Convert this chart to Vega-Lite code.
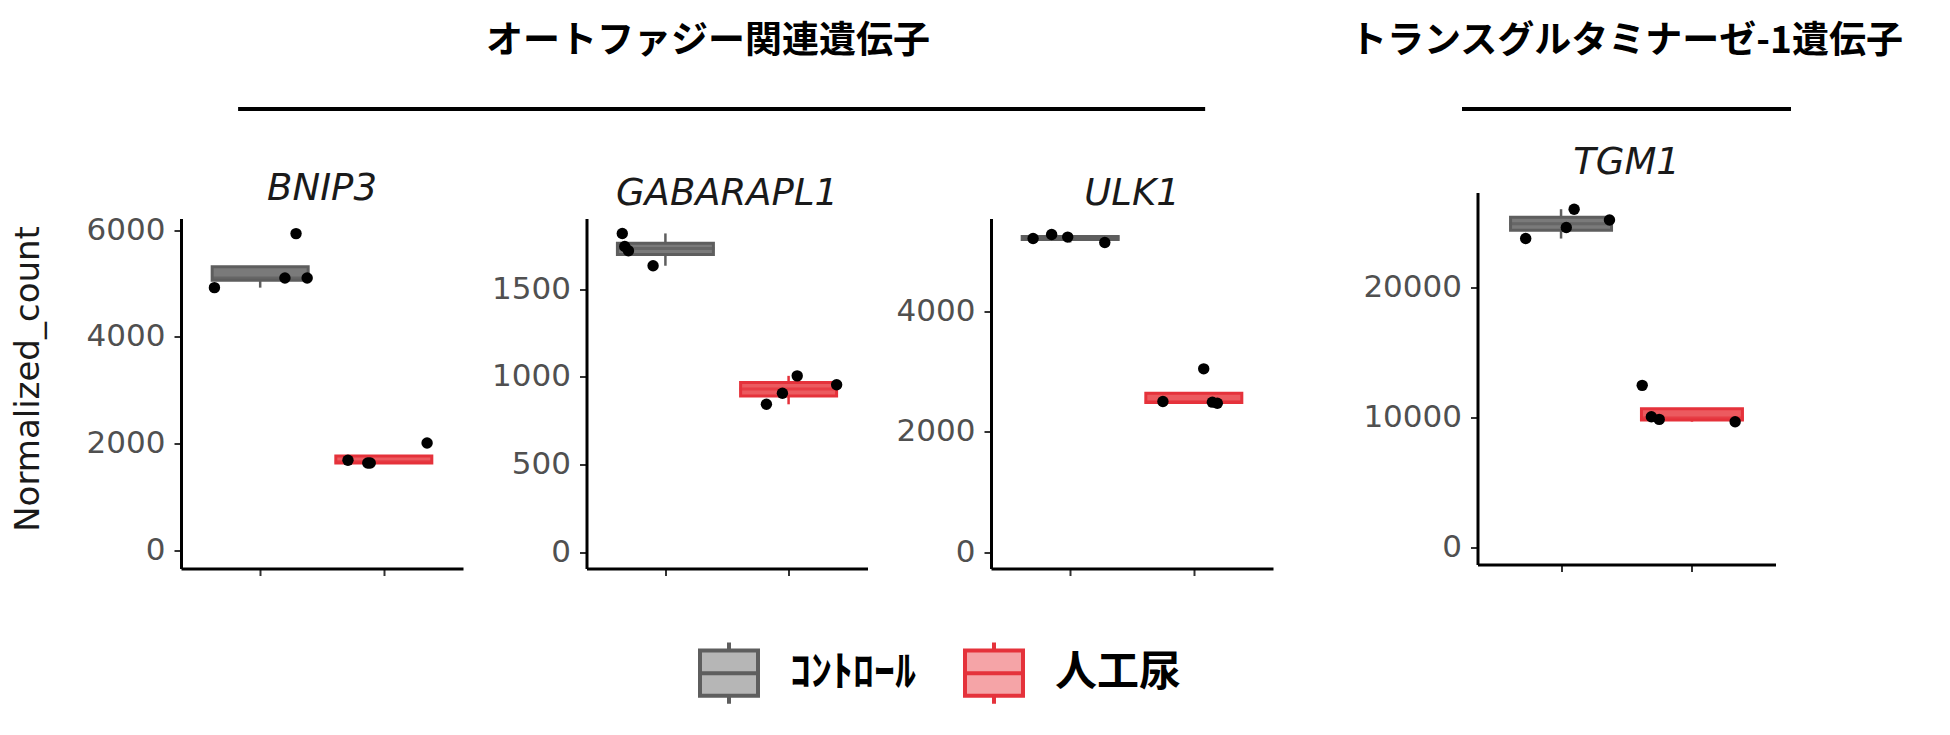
{
  "$schema": "https://vega.github.io/schema/vega-lite/v6.json",
  "background": "white",
  "padding": {"left": 11, "top": 23, "right": 10, "bottom": 10},
  "datasets": {
    "counts": [
      {"gene": "BNIP3", "group": "ｺﾝﾄﾛｰﾙ", "pos": 1, "xj": 0.63, "value": 4924},
      {"gene": "BNIP3", "group": "ｺﾝﾄﾛｰﾙ", "pos": 1, "xj": 1.29, "value": 5937},
      {"gene": "BNIP3", "group": "ｺﾝﾄﾛｰﾙ", "pos": 1, "xj": 1.20, "value": 5106},
      {"gene": "BNIP3", "group": "ｺﾝﾄﾛｰﾙ", "pos": 1, "xj": 1.38, "value": 5106},
      {"gene": "BNIP3", "group": "人工尿", "pos": 2, "xj": 1.71, "value": 1688},
      {"gene": "BNIP3", "group": "人工尿", "pos": 2, "xj": 1.87, "value": 1637},
      {"gene": "BNIP3", "group": "人工尿", "pos": 2, "xj": 1.89, "value": 1637},
      {"gene": "BNIP3", "group": "人工尿", "pos": 2, "xj": 2.35, "value": 2012},
      {"gene": "GABARAPL1", "group": "ｺﾝﾄﾛｰﾙ", "pos": 1, "xj": 0.65, "value": 1817},
      {"gene": "GABARAPL1", "group": "ｺﾝﾄﾛｰﾙ", "pos": 1, "xj": 0.67, "value": 1743},
      {"gene": "GABARAPL1", "group": "ｺﾝﾄﾛｰﾙ", "pos": 1, "xj": 0.70, "value": 1718},
      {"gene": "GABARAPL1", "group": "ｺﾝﾄﾛｰﾙ", "pos": 1, "xj": 0.90, "value": 1633},
      {"gene": "GABARAPL1", "group": "人工尿", "pos": 2, "xj": 1.82, "value": 844},
      {"gene": "GABARAPL1", "group": "人工尿", "pos": 2, "xj": 1.95, "value": 907},
      {"gene": "GABARAPL1", "group": "人工尿", "pos": 2, "xj": 2.07, "value": 1006},
      {"gene": "GABARAPL1", "group": "人工尿", "pos": 2, "xj": 2.39, "value": 955},
      {"gene": "ULK1", "group": "ｺﾝﾄﾛｰﾙ", "pos": 1, "xj": 0.70, "value": 5217},
      {"gene": "ULK1", "group": "ｺﾝﾄﾛｰﾙ", "pos": 1, "xj": 0.85, "value": 5283},
      {"gene": "ULK1", "group": "ｺﾝﾄﾛｰﾙ", "pos": 1, "xj": 0.98, "value": 5240},
      {"gene": "ULK1", "group": "ｺﾝﾄﾛｰﾙ", "pos": 1, "xj": 1.28, "value": 5150},
      {"gene": "ULK1", "group": "人工尿", "pos": 2, "xj": 1.75, "value": 2506},
      {"gene": "ULK1", "group": "人工尿", "pos": 2, "xj": 2.08, "value": 3049},
      {"gene": "ULK1", "group": "人工尿", "pos": 2, "xj": 2.19, "value": 2478},
      {"gene": "ULK1", "group": "人工尿", "pos": 2, "xj": 2.15, "value": 2495},
      {"gene": "TGM1", "group": "ｺﾝﾄﾛｰﾙ", "pos": 1, "xj": 0.73, "value": 23769},
      {"gene": "TGM1", "group": "ｺﾝﾄﾛｰﾙ", "pos": 1, "xj": 1.10, "value": 26023},
      {"gene": "TGM1", "group": "ｺﾝﾄﾛｰﾙ", "pos": 1, "xj": 1.04, "value": 24615},
      {"gene": "TGM1", "group": "ｺﾝﾄﾛｰﾙ", "pos": 1, "xj": 1.37, "value": 25200},
      {"gene": "TGM1", "group": "人工尿", "pos": 2, "xj": 1.62, "value": 12485},
      {"gene": "TGM1", "group": "人工尿", "pos": 2, "xj": 1.69, "value": 10077},
      {"gene": "TGM1", "group": "人工尿", "pos": 2, "xj": 1.75, "value": 9869},
      {"gene": "TGM1", "group": "人工尿", "pos": 2, "xj": 2.33, "value": 9692}
    ]
  },
  "config": {
    "view": {"stroke": null},
    "font": "DejaVu Sans",
    "axis": {
      "grid": false,
      "domainColor": "#000000",
      "domainWidth": 3,
      "tickColor": "#333333",
      "tickWidth": 2,
      "tickSize": 7,
      "labelColor": "#505050",
      "labelFont": "DejaVu Sans",
      "labelFontSize": 31,
      "labelPadding": 9,
      "titleFont": "DejaVu Sans",
      "titleFontSize": 34,
      "titleFontWeight": "normal",
      "titleColor": "#1A1A1A",
      "titlePadding": 41
    },
    "title": {"frame": "group", "anchor": "middle"},
    "legend": {
      "orient": "none",
      "direction": "horizontal",
      "legendX": 517,
      "legendY": 535,
      "symbolType": "M-1,-0.78H1V0.78H-1Z M-1,0H1 M0,-0.78V-1.06 M0,0.78V1.06",
      "symbolSize": 3364,
      "symbolStrokeWidth": 4,
      "symbolOpacity": 1,
      "labelFont": "Noto Sans CJK JP",
      "labelFontSize": 42,
      "labelFontWeight": "bold",
      "labelColor": "#000000",
      "labelOffset": 30,
      "columnPadding": 40
    }
  },
  "spacing": 76,
  "hconcat": [
    {
      "vconcat": [
        {
          "width": 1086,
          "height": 4,
          "title": {"text": "オートファジー関連遺伝子", "font": "Noto Sans CJK JP", "fontSize": 37, "fontWeight": "bold", "color": "#000000", "offset": 46, "dx": -16},
          "data": {"values": [{"header": "オートファジー関連遺伝子"}]},
          "mark": {"type": "rect", "color": "#000000"},
          "encoding": {
            "x": {"field": "header", "type": "nominal", "scale": {"paddingInner": 0, "paddingOuter": 0.0615, "align": 0.48}, "axis": null}
          }
        },
        {
          "hconcat": [
            {
              "width": 282,
              "height": 350,
              "title": {"text": "BNIP3", "font": "DejaVu Sans", "fontSize": 37, "fontStyle": "italic", "fontWeight": "normal", "color": "#1A1A1A", "offset": 6},
              "data": {"name": "counts"},
              "transform": [{"filter": "datum.gene === 'BNIP3'"}],
              "layer": [
                {
                  "mark": {"type": "boxplot", "orient": "vertical", "extent": 1.5, "size": 96, "outliers": false, "ticks": false, "box": {"strokeWidth": 3}, "median": {"strokeWidth": 2}, "rule": {"strokeWidth": 2.5}},
                  "encoding": {
                    "x": {"field": "pos", "type": "quantitative", "scale": {"domain": [0.4, 2.6], "nice": false, "zero": false}, "axis": {"values": [1, 2], "labels": false, "title": null}},
                    "y": {"field": "value", "type": "quantitative", "scale": {"domain": [-340, 6220], "nice": false, "zero": false}, "axis": {"values": [0, 2000, 4000, 6000], "format": "d", "title": "Normalized_count", "titleY": 160}},
                    "fill": {"field": "group", "type": "nominal", "title": null, "scale": {"domain": ["ｺﾝﾄﾛｰﾙ", "人工尿"], "range": ["#7A7A7A", "#EC5A5F"]}, "legend": {"encode": {"symbols": {"update": {"fillOpacity": {"value": 0.55}}}}}},
                    "stroke": {"field": "group", "type": "nominal", "title": null, "scale": {"domain": ["ｺﾝﾄﾛｰﾙ", "人工尿"], "range": ["#5E5E5E", "#E5323B"]}}
                  }
                },
                {
                  "mark": {"type": "circle", "size": 130, "color": "#000000", "opacity": 1},
                  "encoding": {
                    "x": {"field": "xj", "type": "quantitative", "title": null},
                    "y": {"field": "value", "type": "quantitative", "title": "Normalized_count"}
                  }
                }
              ]
            },
            {
              "width": 281,
              "height": 350,
              "title": {"text": "GABARAPL1", "font": "DejaVu Sans", "fontSize": 37, "fontStyle": "italic", "fontWeight": "normal", "color": "#1A1A1A", "offset": 6},
              "data": {"name": "counts"},
              "transform": [{"filter": "datum.gene === 'GABARAPL1'"}],
              "layer": [
                {
                  "mark": {"type": "boxplot", "orient": "vertical", "extent": 1.5, "size": 96, "outliers": false, "ticks": false, "box": {"strokeWidth": 3}, "median": {"strokeWidth": 2}, "rule": {"strokeWidth": 2.5}},
                  "encoding": {
                    "x": {"field": "pos", "type": "quantitative", "scale": {"domain": [0.4, 2.6], "nice": false, "zero": false}, "axis": {"values": [1, 2], "labels": false, "title": null}},
                    "y": {"field": "value", "type": "quantitative", "scale": {"domain": [-91, 1902], "nice": false, "zero": false}, "axis": {"values": [0, 500, 1000, 1500], "format": "d", "title": null}},
                    "fill": {"field": "group", "type": "nominal", "title": null, "scale": {"domain": ["ｺﾝﾄﾛｰﾙ", "人工尿"], "range": ["#7A7A7A", "#EC5A5F"]}, "legend": {"encode": {"symbols": {"update": {"fillOpacity": {"value": 0.55}}}}}},
                    "stroke": {"field": "group", "type": "nominal", "title": null, "scale": {"domain": ["ｺﾝﾄﾛｰﾙ", "人工尿"], "range": ["#5E5E5E", "#E5323B"]}}
                  }
                },
                {
                  "mark": {"type": "circle", "size": 130, "color": "#000000", "opacity": 1},
                  "encoding": {
                    "x": {"field": "xj", "type": "quantitative", "title": null},
                    "y": {"field": "value", "type": "quantitative", "title": null}
                  }
                }
              ]
            },
            {
              "width": 282,
              "height": 350,
              "title": {"text": "ULK1", "font": "DejaVu Sans", "fontSize": 37, "fontStyle": "italic", "fontWeight": "normal", "color": "#1A1A1A", "offset": 6},
              "data": {"name": "counts"},
              "transform": [{"filter": "datum.gene === 'ULK1'"}],
              "layer": [
                {
                  "mark": {"type": "boxplot", "orient": "vertical", "extent": 1.5, "size": 96, "outliers": false, "ticks": false, "box": {"strokeWidth": 3}, "median": {"strokeWidth": 2}, "rule": {"strokeWidth": 2.5}},
                  "encoding": {
                    "x": {"field": "pos", "type": "quantitative", "scale": {"domain": [0.4, 2.6], "nice": false, "zero": false}, "axis": {"values": [1, 2], "labels": false, "title": null}},
                    "y": {"field": "value", "type": "quantitative", "scale": {"domain": [-271, 5549], "nice": false, "zero": false}, "axis": {"values": [0, 2000, 4000], "format": "d", "title": null}},
                    "fill": {"field": "group", "type": "nominal", "title": null, "scale": {"domain": ["ｺﾝﾄﾛｰﾙ", "人工尿"], "range": ["#7A7A7A", "#EC5A5F"]}, "legend": {"encode": {"symbols": {"update": {"fillOpacity": {"value": 0.55}}}}}},
                    "stroke": {"field": "group", "type": "nominal", "title": null, "scale": {"domain": ["ｺﾝﾄﾛｰﾙ", "人工尿"], "range": ["#5E5E5E", "#E5323B"]}}
                  }
                },
                {
                  "mark": {"type": "circle", "size": 130, "color": "#000000", "opacity": 1},
                  "encoding": {
                    "x": {"field": "xj", "type": "quantitative", "title": null},
                    "y": {"field": "value", "type": "quantitative", "title": null}
                  }
                }
              ]
            }
          ],
          "spacing": 123.5,
          "bounds": "flush"
        }
      ],
      "spacing": 107.5,
      "bounds": "flush"
    },
    {
      "vconcat": [
        {
          "width": 329,
          "height": 4,
          "title": {"text": "トランスグルタミナーゼ-1遺伝子", "font": "Noto Sans CJK JP", "fontSize": 37, "fontWeight": "bold", "color": "#000000", "offset": 46},
          "data": {"values": [{"header": "トランスグルタミナーゼ-1遺伝子"}]},
          "mark": {"type": "rect", "color": "#000000"},
          "encoding": {
            "x": {"field": "header", "type": "nominal", "scale": {"paddingInner": 0, "paddingOuter": 0}, "axis": null}
          }
        },
        {
          "width": 298,
          "height": 372,
          "title": {"text": "TGM1", "font": "DejaVu Sans", "fontSize": 37, "fontStyle": "italic", "fontWeight": "normal", "color": "#1A1A1A", "offset": 11},
          "data": {"name": "counts"},
          "transform": [{"filter": "datum.gene === 'TGM1'"}],
          "layer": [
            {
              "mark": {"type": "boxplot", "orient": "vertical", "extent": 1.5, "size": 101, "outliers": false, "ticks": false, "box": {"strokeWidth": 3}, "median": {"strokeWidth": 2}, "rule": {"strokeWidth": 2.5}},
              "encoding": {
                "x": {"field": "pos", "type": "quantitative", "scale": {"domain": [0.4, 2.6], "nice": false, "zero": false}, "axis": {"values": [1, 2], "labels": false, "title": null}},
                "y": {"field": "value", "type": "quantitative", "scale": {"domain": [-1285, 27308], "nice": false, "zero": false}, "axis": {"values": [0, 10000, 20000], "format": "d", "title": null}},
                "fill": {"field": "group", "type": "nominal", "title": null, "scale": {"domain": ["ｺﾝﾄﾛｰﾙ", "人工尿"], "range": ["#7A7A7A", "#EC5A5F"]}, "legend": {"encode": {"symbols": {"update": {"fillOpacity": {"value": 0.55}}}}}},
                "stroke": {"field": "group", "type": "nominal", "title": null, "scale": {"domain": ["ｺﾝﾄﾛｰﾙ", "人工尿"], "range": ["#5E5E5E", "#E5323B"]}}
              }
            },
            {
              "mark": {"type": "circle", "size": 130, "color": "#000000", "opacity": 1},
              "encoding": {
                "x": {"field": "xj", "type": "quantitative", "title": null},
                "y": {"field": "value", "type": "quantitative", "title": null}
              }
            }
          ]
        }
      ],
      "spacing": 81.5,
      "bounds": "flush",
      "center": true
    }
  ]
}
